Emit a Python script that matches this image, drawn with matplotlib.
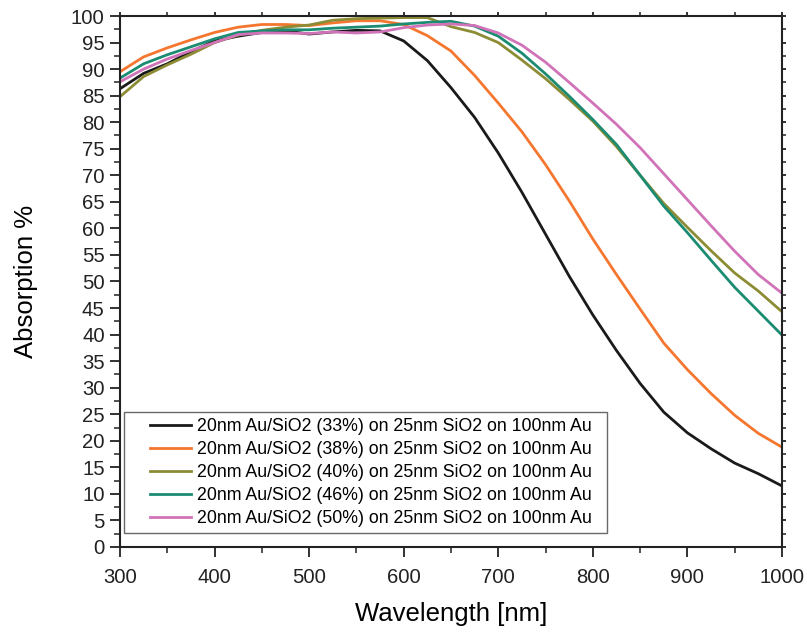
import matplotlib
matplotlib.use('Agg')
import matplotlib.pyplot as plt
import matplotlib.ticker as plticker
from matplotlib.legend_handler import HandlerLine2D

plt.rcParams['font.family'] = ['Liberation Sans', 'DejaVu Sans']

wavelength = list(range(300, 1001, 25))

abs_33 = [86.3, 89.2, 91.0, 93.3, 95.3, 96.2, 96.9, 97.2, 96.6, 97.0, 97.3, 97.2, 95.3, 91.6,
          86.5, 80.9, 74.2, 66.8, 58.9, 51.0, 43.7, 37.0, 30.8, 25.4, 21.5, 18.5, 15.8, 13.8, 11.5]
abs_38 = [89.5, 92.3, 94.0, 95.5, 96.9, 97.9, 98.4, 98.4, 98.2, 98.7, 99.1, 99.1, 98.4, 96.3,
          93.4, 88.8, 83.6, 78.2, 72.0, 65.2, 58.0, 51.3, 44.8, 38.4, 33.4, 28.9, 24.8, 21.4, 18.8]
abs_40 = [84.8, 88.6, 90.8, 92.8, 95.0, 96.4, 97.3, 97.9, 98.3, 99.2, 99.5, 99.6, 99.7, 99.7,
          98.0, 96.9, 95.0, 91.7, 88.2, 84.3, 80.2, 75.4, 70.0, 64.7, 60.2, 55.8, 51.6, 48.2, 44.3]
abs_46 = [88.3, 91.0, 92.7, 94.2, 95.7, 96.9, 97.2, 97.4, 97.4, 97.7, 97.9, 98.1, 98.5, 98.8,
          99.0, 98.1, 96.2, 93.0, 89.1, 84.9, 80.5, 75.8, 70.0, 64.2, 59.2, 54.0, 48.9, 44.4, 39.9]
abs_50 = [87.6, 90.0, 91.9, 93.5, 95.0, 96.5, 96.8, 96.8, 96.7, 97.0, 96.8, 97.0, 97.8, 98.3,
          98.5, 98.2, 96.8, 94.5, 91.3, 87.5, 83.6, 79.6, 75.2, 70.3, 65.4, 60.5, 55.7, 51.3, 47.8]

series = [
  ('20nm Au/SiO2 (33%) on 25nm SiO2 on 100nm Au', abs_33, '#1a1a1a'),
  ('20nm Au/SiO2 (38%) on 25nm SiO2 on 100nm Au', abs_38, '#f5772f'),
  ('20nm Au/SiO2 (40%) on 25nm SiO2 on 100nm Au', abs_40, '#8c8c35'),
  ('20nm Au/SiO2 (46%) on 25nm SiO2 on 100nm Au', abs_46, '#1b8c72'),
  ('20nm Au/SiO2 (50%) on 25nm SiO2 on 100nm Au', abs_50, '#d173b8'),
]

fig = plt.figure(figsize=(8.07, 6.35), dpi=100)
ax = fig.add_axes([0.1487, 0.1386, 0.8203, 0.8362])

lines = []
for label, ys, color in series:
  line, = ax.plot(wavelength, ys, color=color, linewidth=2.0, label=label)
  lines.append(line)

ax.set_xlim(300, 1000)
ax.set_ylim(0, 100)
ax.xaxis.set_major_locator(plticker.MultipleLocator(100))
ax.xaxis.set_minor_locator(plticker.MultipleLocator(50))
ax.yaxis.set_major_locator(plticker.MultipleLocator(5))
ax.yaxis.set_minor_locator(plticker.MultipleLocator(2.5))

for spine in ax.spines.values():
  spine.set_linewidth(1.5)
  spine.set_color('#222222')

ax.tick_params(which='major', direction='out', length=7, width=1.3, labelsize=14.6,
               colors='#222222', pad=4)
ax.tick_params(axis='x', which='major', pad=8)
ax.tick_params(which='minor', direction='out', length=4, width=1.1, colors='#222222')
ax.tick_params(which='both', top=True, right=True)
for axis in (ax.xaxis, ax.yaxis):
  for t in axis.get_major_ticks() + axis.get_minor_ticks():
    t.tick2line.set_markersize(3)

ax.set_xlabel('Wavelength [nm]', fontsize=18.5, labelpad=11)
ax.set_ylabel('Absorption %', fontsize=18.5, labelpad=24)

# legend box spans roughly x=124..607 px in the original
leg = ax.legend(handles=lines, loc='lower left',
                bbox_to_anchor=(0.006, 0.026, 0.73, 0.2), mode='expand', borderaxespad=0,
                fontsize=12.8, handlelength=3.4, handletextpad=0.35, labelspacing=0.33,
                borderpad=0.35, fancybox=False, frameon=True,
                handler_map={l: HandlerLine2D(xpad=1.1) for l in lines})
leg.get_frame().set_edgecolor('#444444')
leg.get_frame().set_linewidth(1.0)

fig.savefig('out.png', dpi=100)
